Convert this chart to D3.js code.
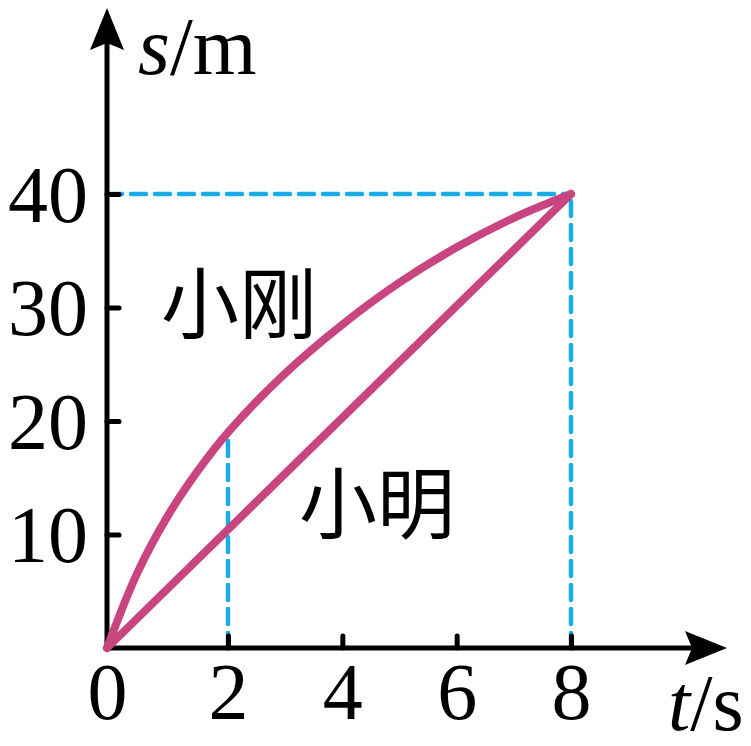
<!DOCTYPE html>
<html>
<head>
<meta charset="utf-8">
<script src="https://cdn.jsdelivr.net/npm/d3@7"></script>
<style>
  body { margin: 0; background: #fff; }
  .tick text { font-family: "Liberation Serif", "Times New Roman", serif; font-size: 80px; fill: #000; }
</style>
</head>
<body>
<div id="chart"></div>
<script>
// s-t graph of two runners
var tValues = [0, 0.5, 1, 1.5, 2, 3, 4, 5, 6, 7, 8];
var gangS = [0, 6.6, 11.6, 15.6, 19, 24.2, 28.5, 32.2, 35.3, 37.9, 40];   // 小刚 (curve)
var mingT = [0, 8];
var mingS = [0, 40];                                                       // 小明 (straight)
var xTicks = [0, 2, 4, 6, 8];
var yTicks = [10, 20, 30, 40];
var names = ["小刚", "小明"];

var svgWidth = 751, svgHeight = 746;

var svg = d3.select("#chart")
  .append("svg")
  .attr("width", svgWidth)
  .attr("height", svgHeight);

// picture is slightly uneven between 0 and 2, so a polylinear scale
var x = d3.scaleLinear().domain([0, 2, 8]).range([107, 228, 571]);
var y = d3.scaleLinear().domain([0, 40]).range([648, 194]);

var pink = "#c8457f";
var blue = "#18ade6";

// dashed guides
var guides = svg.append("g")
  .attr("stroke", blue)
  .attr("stroke-width", 4.5)
  .attr("stroke-dasharray", "15,9")
  .attr("stroke-linecap", "round")
  .attr("fill", "none");

guides.append("line")
  .attr("x1", x(0)).attr("y1", y(40))
  .attr("x2", x(8)).attr("y2", y(40));
guides.append("line")
  .attr("x1", x(8)).attr("y1", y(0))
  .attr("x2", x(8)).attr("y2", y(40));
guides.append("line")
  .attr("x1", x(2)).attr("y1", y(0))
  .attr("x2", x(2)).attr("y2", y(gangS[4]) + 6);

// axes
var bottomAxis = d3.axisBottom(x).tickValues(xTicks).tickSize(-12).tickPadding(18).tickFormat(d3.format("d"));
var leftAxis = d3.axisLeft(y).tickValues(yTicks).tickSize(-12).tickPadding(19).tickFormat(d3.format("d"));

var gx = svg.append("g")
  .attr("transform", "translate(0," + y(0) + ")")
  .call(bottomAxis);
var gy = svg.append("g")
  .attr("transform", "translate(" + x(0) + ",0)")
  .call(leftAxis);

[gx, gy].forEach(function(g) {
  g.select(".domain").remove();
  g.selectAll(".tick line")
    .attr("stroke", "#000")
    .attr("stroke-width", 5)
    .attr("stroke-linecap", "round");
});
gx.selectAll(".tick").filter(function(d) { return d === 0; }).select("line").remove();
gx.selectAll(".tick text").attr("dy", "0.71em").attr("y", 14);
gy.selectAll(".tick text").attr("dy", "0.34em");

// axis lines with arrows
svg.append("line")
  .attr("x1", x(0)).attr("y1", y(0) + 2.5)
  .attr("x2", x(0)).attr("y2", 40)
  .attr("stroke", "#000").attr("stroke-width", 5);
svg.append("line")
  .attr("x1", x(0) - 2.5).attr("y1", y(0))
  .attr("x2", 695).attr("y2", y(0))
  .attr("stroke", "#000").attr("stroke-width", 5);

svg.append("path")
  .attr("d", "M107,8 L124,50 L107,43 L90,50 Z")
  .attr("fill", "#000");
svg.append("path")
  .attr("d", "M727,648 L685,665 L692,648 L685,631 Z")
  .attr("fill", "#000");

// curves
var lineGen = d3.line()
  .x(function(d) { return x(d[0]); })
  .y(function(d) { return y(d[1]); });

svg.append("path")
  .datum(d3.zip(tValues, gangS))
  .attr("d", lineGen.curve(d3.curveCatmullRom.alpha(0.5)))
  .attr("fill", "none")
  .attr("stroke", pink)
  .attr("stroke-width", 8)
  .attr("stroke-linecap", "round")
  .attr("stroke-linejoin", "round");

svg.append("path")
  .datum(d3.zip(mingT, mingS))
  .attr("d", lineGen.curve(d3.curveLinear))
  .attr("fill", "none")
  .attr("stroke", pink)
  .attr("stroke-width", 8)
  .attr("stroke-linecap", "round");

// labels
var cjk = '"Noto Sans CJK SC", "Noto Sans CJK JP", sans-serif';
svg.append("text")
  .attr("x", 239).attr("y", 333)
  .attr("text-anchor", "middle")
  .style("font-family", cjk).style("font-size", "78px")
  .text(names[0]);
svg.append("text")
  .attr("x", 377).attr("y", 533)
  .attr("text-anchor", "middle")
  .style("font-family", cjk).style("font-size", "78px")
  .text(names[1]);

var serif = '"Liberation Serif", "Times New Roman", serif';
var sLabel = svg.append("text")
  .attr("x", 138).attr("y", 74)
  .style("font-family", serif).style("font-size", "82px");
sLabel.append("tspan").style("font-style", "italic").text("s");
sLabel.append("tspan").text("/m");

var tLabel = svg.append("text")
  .attr("x", 668).attr("y", 730)
  .style("font-family", serif).style("font-size", "80px");
tLabel.append("tspan").style("font-style", "italic").text("t");
tLabel.append("tspan").text("/s");
</script>
</body>
</html>
